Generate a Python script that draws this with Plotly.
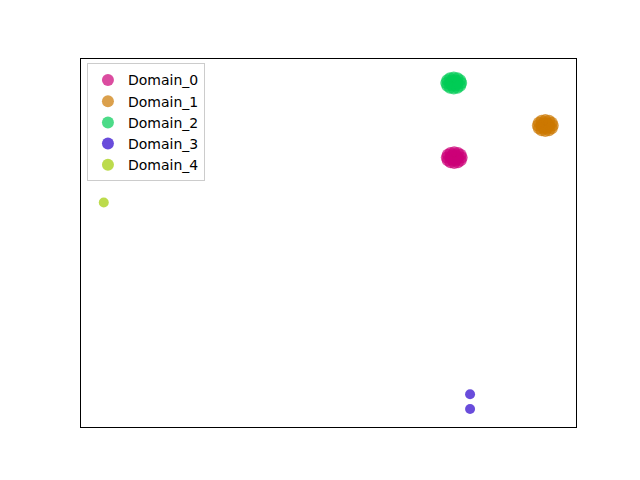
import plotly.graph_objects as go

names = ["Domain_0", "Domain_1", "Domain_2", "Domain_3", "Domain_4"]
colors = ["#cc0077", "#cc7700", "#00cc55", "#2a00cc", "#a0cc00"]

d0_x = [75.4, 76.15, 75.78, 75.02, 74.65, 75.02, 75.78, 76.91, 76.71, 76.16, 75.4, 74.64, 74.09, 73.89, 74.09, 74.64, 75.4, 76.16, 76.71]
d0_y = [73.2, 73.2, 73.85, 73.85, 73.2, 72.55, 72.55, 73.2, 73.95, 74.49, 74.69, 74.49, 73.95, 73.2, 72.45, 71.91, 71.71, 71.91, 72.45]

d1_x = [93.8, 94.55, 94.18, 93.42, 93.05, 93.42, 94.18, 95.31, 95.11, 94.56, 93.8, 93.04, 92.49, 92.29, 92.49, 93.04, 93.8, 94.56, 95.11]
d1_y = [81.9, 81.9, 82.55, 82.55, 81.9, 81.25, 81.25, 81.9, 82.65, 83.19, 83.39, 83.19, 82.65, 81.9, 81.15, 80.61, 80.41, 80.61, 81.15]

d2_x = [75.3, 76.05, 75.68, 74.92, 74.55, 74.92, 75.68, 76.81, 76.61, 76.06, 75.3, 74.54, 73.99, 73.79, 73.99, 74.54, 75.3, 76.06, 76.61]
d2_y = [93.5, 93.5, 94.15, 94.15, 93.5, 92.85, 92.85, 93.5, 94.25, 94.79, 94.99, 94.79, 94.25, 93.5, 92.75, 92.21, 92.01, 92.21, 92.75]

d3_x = [78.6, 78.6]
d3_y = [8.9, 4.9]

d4_x = [4.6]
d4_y = [61.0]

xs = [d0_x, d1_x, d2_x, d3_x, d4_x]
ys = [d0_y, d1_y, d2_y, d3_y, d4_y]
sizes = [12, 12, 12, 10, 10]

fig = go.Figure()
for n, c, x, y, s in zip(names, colors, xs, ys, sizes):
    fig.add_trace(go.Scatter(
        x=x, y=y, mode="markers", name=n,
        marker=dict(color=c, size=s, opacity=0.7, line=dict(width=0)),
    ))

axis_style = dict(showline=True, mirror=True, linecolor="black", linewidth=1,
                  showticklabels=False, showgrid=False, zeroline=False, ticks="")
fig.update_xaxes(range=[0, 100], **axis_style)
fig.update_yaxes(range=[0, 100], **axis_style)

fig.update_layout(
    width=640, height=480,
    margin=dict(l=73, r=72, t=51, b=61),
    plot_bgcolor="white", paper_bgcolor="white",
    font=dict(family="DejaVu Sans", size=14, color="black"),
    legend=dict(x=0.012, y=0.988, xanchor="left", yanchor="top",
                bordercolor="#cccccc", borderwidth=1, bgcolor="white",
                font=dict(size=14), itemsizing="constant"),
    showlegend=True,
)

fig.write_html("out.html")
